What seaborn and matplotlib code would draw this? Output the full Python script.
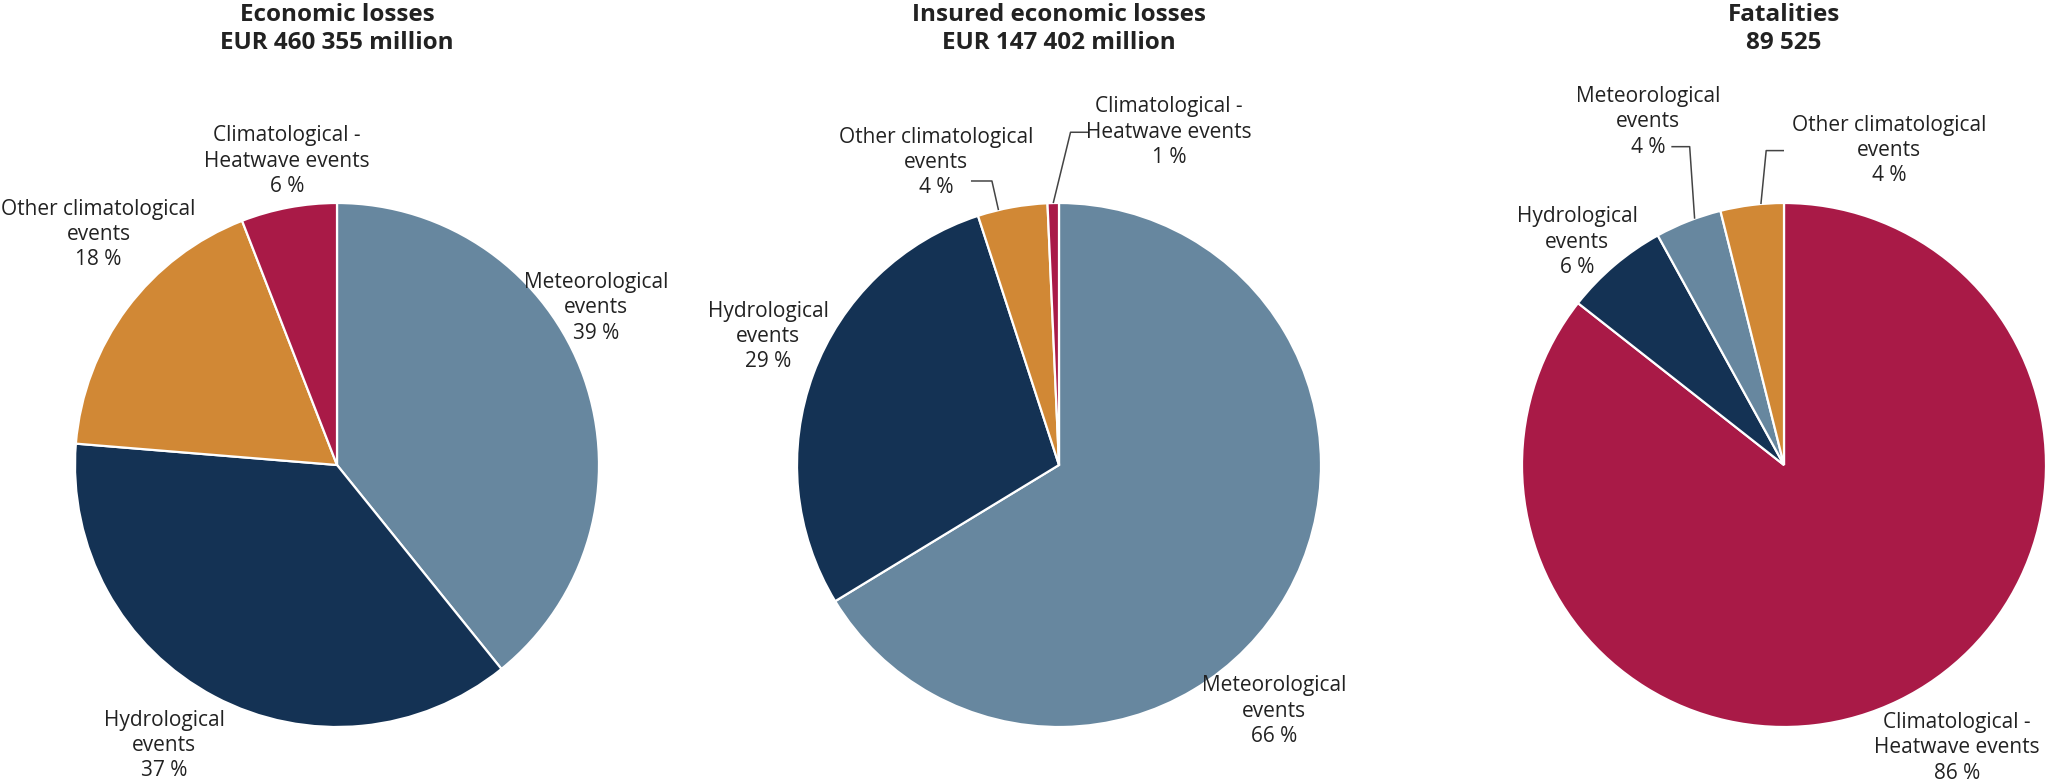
import matplotlib
matplotlib.use("Agg")
import matplotlib.pyplot as plt
from matplotlib import font_manager
import seaborn as sns
import numpy as np

# ---------------- data ----------------
titles = ["Economic losses\nEUR 460 355 million",
          "Insured economic losses\nEUR 147 402 million",
          "Fatalities\n89 525"]

econ_categories = ["Meteorological", "Hydrological", "Other climatological", "Heatwave"]
econ_values = [39.2, 37.1, 17.8, 5.9]

insured_categories = ["Meteorological", "Hydrological", "Other climatological", "Heatwave"]
insured_values = [66.3, 28.7, 4.3, 0.7]

fatal_categories = ["Heatwave", "Hydrological", "Meteorological", "Other climatological"]
fatal_values = [85.6, 6.4, 4.1, 3.9]

label_names = {
    "Meteorological": "Meteorological\nevents",
    "Hydrological": "Hydrological\nevents",
    "Other climatological": "Other climatological\nevents",
    "Heatwave": "Climatological -\nHeatwave events",
}

# ---------------- style ----------------
sns.set_theme(style="white")
names = {f.name for f in font_manager.fontManager.ttflist}
family = "Liberation Sans Narrow" if "Liberation Sans Narrow" in names else "Open Sans"
plt.rcParams["font.family"] = [family, "DejaVu Sans"]

palette = {
    "Meteorological": "#67879F",
    "Hydrological": "#143254",
    "Other climatological": "#D18835",
    "Heatwave": "#A91A47",
}
text_color = "#222222"

# ---------------- layout (pixels) ----------------
W, H = 2048, 784
R = 262
centers = [(337, 319), (1059, 319), (1784, 319)]

# label block centres in units of the radius, relative to the pie centre
label_pos = [
    {"Meteorological": (0.99, 0.60), "Hydrological": (-0.66, -1.07),
     "Other climatological": (-0.91, 0.88), "Heatwave": (-0.19, 1.16)},
    {"Meteorological": (0.82, -0.94), "Hydrological": (-1.11, 0.49),
     "Other climatological": (-0.47, 1.155), "Heatwave": (0.42, 1.27)},
    {"Heatwave": (0.66, -1.08), "Hydrological": (-0.79, 0.85),
     "Meteorological": (-0.52, 1.31), "Other climatological": (0.40, 1.20)},
]
# leader lines: (fraction along wedge angle, [elbow, end]) in radius units
leaders = [
    {},
    {"Other climatological": (0.70, [(-0.256, 1.084), (-0.336, 1.084)]),
     "Heatwave": (0.5, [(0.044, 1.27), (0.115, 1.27)])},
    {"Meteorological": (0.40, [(-0.36, 1.215), (-0.43, 1.215)]),
     "Other climatological": (0.36, [(-0.068, 1.20), (0.0, 1.20)])},
]

fig = plt.figure(figsize=(W / 100, H / 100), dpi=100)
ax = fig.add_axes([0, 0, 1, 1])

charts = [(econ_categories, econ_values),
          (insured_categories, insured_values),
          (fatal_categories, fatal_values)]

fs = 15
for i, (cats, vals) in enumerate(charts):
    cx, cy = centers[i]
    wedges, _ = ax.pie(vals, startangle=90, counterclock=False,
                       colors=[palette[c] for c in cats], radius=R,
                       center=(cx, cy),
                       wedgeprops=dict(edgecolor="white", linewidth=1.6))
    for w, c, v in zip(wedges, cats, vals):
        rx, ry = label_pos[i][c]
        txt = f"{label_names[c]}\n{round(v):d} %"
        ax.text(cx + rx * R, cy + ry * R, txt, ha="center", va="center",
                fontsize=fs, color=text_color, linespacing=1.27)
        if c in leaders[i]:
            frac, path = leaders[i][c]
            ang = np.deg2rad(w.theta1 + frac * (w.theta2 - w.theta1))
            pts = [(cx + R * np.cos(ang), cy + R * np.sin(ang))]
            pts += [(cx + px * R, cy + py * R) for px, py in path]
            xs, ys = zip(*pts)
            ax.plot(xs, ys, color="#444444", lw=1.1, solid_capstyle="butt")
    ax.text(cx, 755, titles[i], ha="center", va="center", fontsize=17.5,
            fontweight="bold", color=text_color, linespacing=1.2)

ax.set_xlim(0, W)
ax.set_ylim(0, H)
ax.set_aspect("equal")
ax.axis("off")

fig.savefig("out.png", dpi=100, facecolor="white")
